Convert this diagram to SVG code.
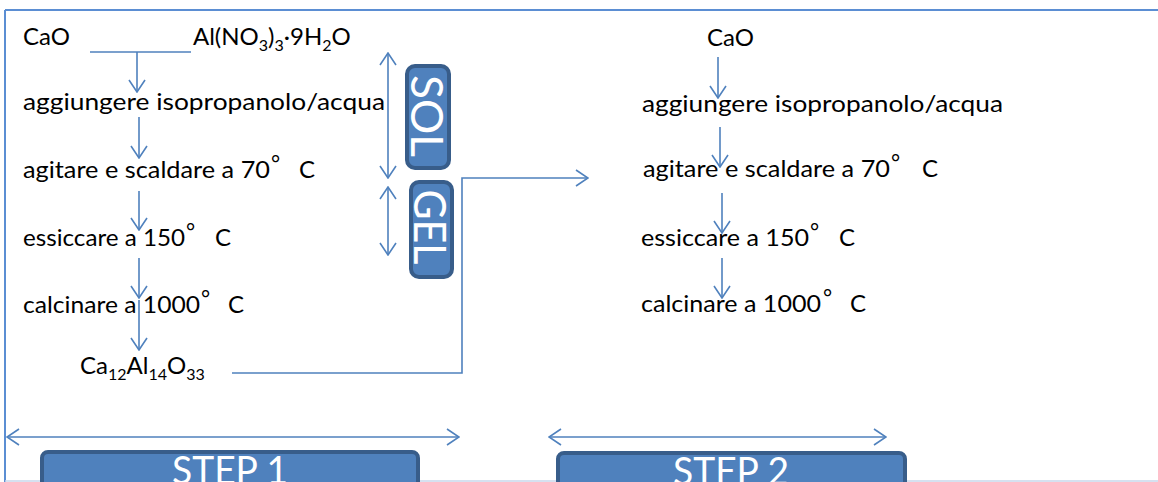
<svg xmlns="http://www.w3.org/2000/svg" width="1158" height="482" viewBox="0 0 1158 482">
<defs>
<style>
.t{font-family:Lato,"Liberation Sans",sans-serif;font-size:24px;fill:#000}
.deg{font-family:Lato,"Liberation Sans",sans-serif;font-size:22px;fill:#000}
.ln{stroke:#4F81BD;stroke-width:1.6;fill:none}
.box{fill:#4F81BD;stroke:#385D8A;stroke-width:4}
.bt{font-family:Lato,"Liberation Sans",sans-serif;fill:#fff}
</style>
<marker id="ah" viewBox="0 0 14 18" refX="13" refY="9" markerWidth="14" markerHeight="18" markerUnits="userSpaceOnUse" orient="auto-start-reverse">
<path d="M1,1 L13,9 L1,17" fill="none" stroke="#4F81BD" stroke-width="1.6"/>
</marker>
</defs>
<rect width="1158" height="482" fill="#fff"/>
<g id="frame">
<line x1="5" y1="10" x2="1158" y2="10" stroke="#5B8ED3" stroke-width="2"/>
<line x1="5" y1="10" x2="5" y2="482" stroke="#5B8ED3" stroke-width="2"/>
<line x1="5" y1="481" x2="1158" y2="481" stroke="#C8D7EB" stroke-width="1.5"/>
</g>
<g id="step1-text">
<g id="n-cao1"><text class="t" x="23" y="45">CaO</text></g>
<g id="n-al"><text class="t" x="193" y="45">Al(NO<tspan dy="6" font-size="16">3</tspan><tspan dy="-6">)</tspan><tspan dy="6" font-size="16">3</tspan><tspan dy="-6">·9H</tspan><tspan dy="6" font-size="16">2</tspan><tspan dy="-6">O</tspan></text></g>
<g id="n-agg1"><text class="t" x="23" y="110" textLength="362" lengthAdjust="spacingAndGlyphs">aggiungere isopropanolo/acqua</text></g>
<g id="n-agi1"><text class="t" x="23" y="178" textLength="247" lengthAdjust="spacingAndGlyphs">agitare e scaldare a 70</text><text class="deg" x="271" y="171">°</text><text class="t" x="299" y="178">C</text></g>
<g id="n-ess1"><text class="t" x="23" y="246" textLength="162" lengthAdjust="spacingAndGlyphs">essiccare a 150</text><text class="deg" x="186" y="239">°</text><text class="t" x="215" y="246">C</text></g>
<g id="n-cal1"><text class="t" x="23" y="313" textLength="177" lengthAdjust="spacingAndGlyphs">calcinare a 1000</text><text class="deg" x="201" y="306">°</text><text class="t" x="228" y="313">C</text></g>
<g id="n-ca12"><text class="t" x="80" y="374">Ca<tspan dy="6" font-size="16">12</tspan><tspan dy="-6">Al</tspan><tspan dy="6" font-size="16">14</tspan><tspan dy="-6">O</tspan><tspan dy="6" font-size="16">33</tspan></text></g>
</g>
<g id="step2-text">
<g id="n-cao2"><text class="t" x="707" y="46">CaO</text></g>
<g id="n-agg2"><text class="t" x="642" y="112" textLength="361" lengthAdjust="spacingAndGlyphs">aggiungere isopropanolo/acqua</text></g>
<g id="n-agi2"><text class="t" x="643" y="177" textLength="247" lengthAdjust="spacingAndGlyphs">agitare e scaldare a 70</text><text class="deg" x="891" y="170">°</text><text class="t" x="922" y="177">C</text></g>
<g id="n-ess2"><text class="t" x="641" y="246" textLength="168" lengthAdjust="spacingAndGlyphs">essiccare a 150</text><text class="deg" x="810" y="239">°</text><text class="t" x="839" y="246">C</text></g>
<g id="n-cal2"><text class="t" x="641" y="312" textLength="180" lengthAdjust="spacingAndGlyphs">calcinare a 1000</text><text class="deg" x="823" y="305">°</text><text class="t" x="850" y="312">C</text></g>
</g>
<g id="n-sol">
<rect class="box" x="407" y="66" width="42" height="102" rx="8"/>
<text class="bt" font-size="44" transform="translate(428,116) rotate(90)" text-anchor="middle" dominant-baseline="central" textLength="82" lengthAdjust="spacingAndGlyphs">SOL</text>
</g>
<g id="n-gel">
<rect class="box" x="411" y="182" width="41" height="95" rx="8"/>
<text class="bt" font-size="44" transform="translate(431,227) rotate(90)" text-anchor="middle" dominant-baseline="central" textLength="75" lengthAdjust="spacingAndGlyphs">GEL</text>
</g>
<g id="n-step1">
<rect class="box" x="42" y="452" width="376" height="40" rx="6"/>
<text class="bt" font-size="38" x="230" y="484" text-anchor="middle" textLength="116" lengthAdjust="spacingAndGlyphs">STEP 1</text>
</g>
<g id="n-step2">
<rect class="box" x="558" y="453" width="347" height="40" rx="6"/>
<text class="bt" font-size="38" x="731" y="485" text-anchor="middle" textLength="116" lengthAdjust="spacingAndGlyphs">STEP 2</text>
</g>
<g id="connectors">
<path class="ln" d="M90,52 H191"/>
<path class="ln" d="M137,52 V92" marker-end="url(#ah)"/>
<path class="ln" d="M139,117 V158" marker-end="url(#ah)"/>
<path class="ln" d="M139,191 V230" marker-end="url(#ah)"/>
<path class="ln" d="M139,258 V298" marker-end="url(#ah)"/>
<path class="ln" d="M139,300 V350" marker-end="url(#ah)"/>
<path class="ln" d="M388,53 V178" marker-start="url(#ah)" marker-end="url(#ah)"/>
<path class="ln" d="M388,187 V255" marker-start="url(#ah)" marker-end="url(#ah)"/>
<path class="ln" d="M232,373 H462 V178 H588" marker-end="url(#ah)"/>
<path class="ln" d="M718,57 V98" marker-end="url(#ah)"/>
<path class="ln" d="M720,127 V167" marker-end="url(#ah)"/>
<path class="ln" d="M722,193 V233" marker-end="url(#ah)"/>
<path class="ln" d="M722,258 V298" marker-end="url(#ah)"/>
<path class="ln" d="M7,437 H459" marker-start="url(#ah)" marker-end="url(#ah)"/>
<path class="ln" d="M549,437 H886" marker-start="url(#ah)" marker-end="url(#ah)"/>
</g>
</svg>
